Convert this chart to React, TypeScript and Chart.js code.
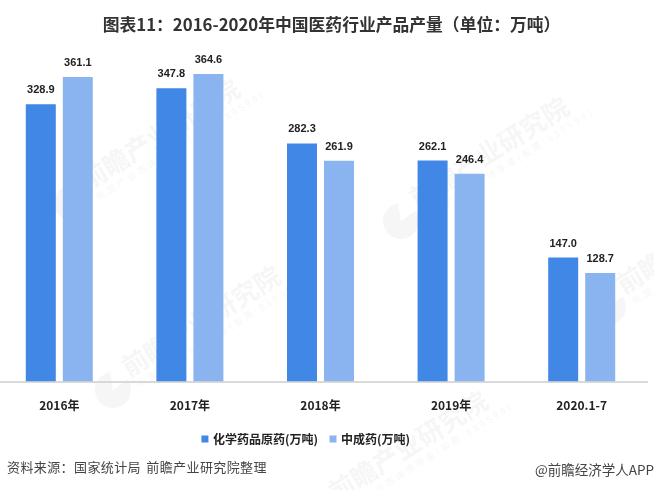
import React, { useRef, useEffect } from 'react';
import { Chart, registerables } from 'chart.js';

Chart.register(...registerables);

const categories = ['2016年', '2017年', '2018年', '2019年', '2020.1-7'];
const seriesNames = ['化学药品原药(万吨)', '中成药(万吨)'];
const chemical = [328.9, 347.8, 282.3, 262.1, 147.0];
const patent = [361.1, 364.6, 261.9, 246.4, 128.7];
const titleText = '图表11：2016-2020年中国医药行业产品产量（单位：万吨）';
const sourceText = '资料来源：国家统计局 前瞻产业研究院整理';
const creditText = '@前瞻经济学人APP';
const watermarkName = '前瞻产业研究院';
const watermarkSub = '中国产业咨询领导者(股票:839599)';

const FONT = '"Noto Sans CJK SC", "Liberation Sans", sans-serif';
const CANVAS_LEFT = -6;
const watermarkSpots = [[72, 203], [113, 390], [401, 221], [608, 307], [320, 515]];

// faint brand mark behind everything
const watermark = {
    id: 'watermark',
    beforeDraw(chart: Chart) {
        const { ctx } = chart;
        ctx.save();
        watermarkSpots.forEach(([x, y]) => {
            ctx.save();
            ctx.translate(x - CANVAS_LEFT, y);
            ctx.fillStyle = '#F6F6F6';
            ctx.beginPath();
            ctx.moveTo(0, 0);
            ctx.arc(0, 0, 18, -Math.PI * 0.2, Math.PI * 1.45);
            ctx.closePath();
            ctx.fill();
            ctx.rotate((-32 * Math.PI) / 180);
            ctx.textBaseline = 'alphabetic';
            ctx.font = `bold 26px ${FONT}`;
            ctx.fillText(watermarkName, 20, -2);
            ctx.font = `9px ${FONT}`;
            (ctx as any).letterSpacing = '3px';
            ctx.fillText(watermarkSub, 24, 12);
            ctx.restore();
        });
        ctx.restore();
    },
};

// value labels above each bar
const valueLabels = {
    id: 'valueLabels',
    afterDatasetsDraw(chart: Chart) {
        const { ctx } = chart;
        ctx.save();
        ctx.font = `bold 11px "Liberation Sans", sans-serif`;
        ctx.fillStyle = '#222222';
        ctx.textAlign = 'center';
        ctx.textBaseline = 'middle';
        chart.data.datasets.forEach((ds, i) => {
            chart.getDatasetMeta(i).data.forEach((bar, j) => {
                ctx.fillText((ds.data[j] as number).toFixed(1), bar.x, bar.y - 14);
            });
        });
        ctx.restore();
    },
};

// title and legend are not centred on the canvas in the reference
const blockShift = {
    id: 'blockShift',
    afterLayout(chart: Chart) {
        if (chart.legend) {
            chart.legend.left -= 14;
            chart.legend.right -= 14;
            chart.legend.top -= 2;
            chart.legend.bottom -= 2;
        }
        const titleBlock = (chart as any).titleBlock;
        if (titleBlock) {
            titleBlock.left += 11;
            titleBlock.right += 11;
        }
    },
};

const App: React.FC = () => {
    const canvasRef = useRef<HTMLCanvasElement | null>(null);

    useEffect(() => {
        if (!canvasRef.current) return;

        const chart = new Chart(canvasRef.current, {
            type: 'bar',
            data: {
                labels: categories,
                datasets: [
                    { label: seriesNames[0], data: chemical, backgroundColor: '#4187E5' },
                    { label: seriesNames[1], data: patent, backgroundColor: '#8AB4F0' },
                ],
            },
            options: {
                responsive: false,
                animation: false,
                devicePixelRatio: 1,
                layout: { padding: { left: 0, right: 7, top: 0, bottom: 33 } },
                datasets: { bar: { categoryPercentage: 0.567, barPercentage: 0.81 } },
                scales: {
                    x: {
                        grid: { display: false },
                        border: { color: '#D9D9D9', width: 2 },
                        ticks: {
                            color: '#222222',
                            font: { family: FONT, size: 12, weight: 'bold' },
                            padding: 9,
                            maxRotation: 0,
                        },
                    },
                    y: { display: false, min: 0, max: 400 },
                },
                plugins: {
                    title: {
                        display: true,
                        text: titleText,
                        color: '#333333',
                        font: { family: FONT, size: 16.8, weight: 'bold' },
                        padding: { top: 15, bottom: 9 },
                    },
                    legend: {
                        position: 'bottom',
                        labels: {
                            color: '#222222',
                            font: { family: FONT, size: 12, weight: 'bold' },
                            usePointStyle: true,
                            pointStyle: 'rect',
                            boxWidth: 4,
                            boxHeight: 7,
                            padding: 13,
                        },
                    },
                    tooltip: { enabled: false },
                },
            },
            plugins: [watermark, valueLabels, blockShift],
        });

        return () => chart.destroy();
    }, []);

    return (
        <div style={{ position: 'absolute', left: 0, top: 0, width: 654, height: 490, overflow: 'hidden', background: '#fff' }}>
            <canvas ref={canvasRef} width={660} height={490} style={{ position: 'absolute', left: CANVAS_LEFT, top: 0 }}></canvas>
            <div style={{ position: 'absolute', left: 7, top: 458, fontFamily: FONT, fontSize: 13, letterSpacing: 0.4, wordSpacing: 2, lineHeight: '18px', color: '#444', whiteSpace: 'nowrap' }}>{sourceText}</div>
            <div style={{ position: 'absolute', right: 0, top: 460, fontFamily: FONT, fontSize: 13.5, lineHeight: '18px', color: '#444', whiteSpace: 'nowrap' }}>{creditText}</div>
        </div>
    );
};

export default App;
